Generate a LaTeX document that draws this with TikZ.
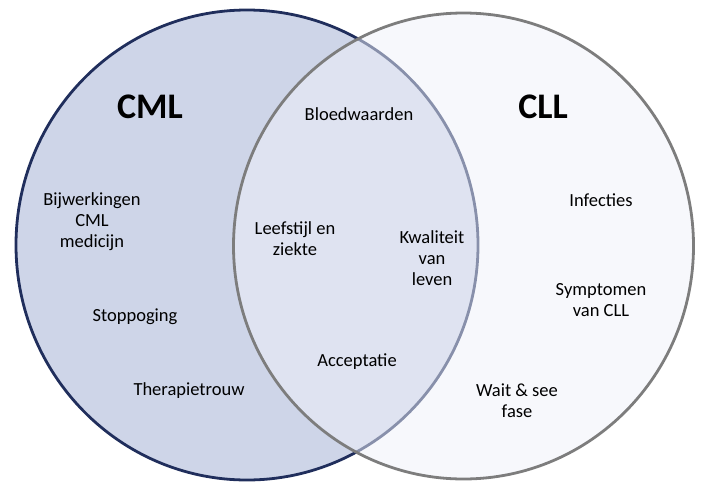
\documentclass[tikz,border=0pt]{standalone}
\usepackage{fontspec}
\setmainfont{Carlito}
\definecolor{cmlfill}{RGB}{206,213,232}
\definecolor{cmlline}{RGB}{32,46,92}
\definecolor{cllfill}{RGB}{240,242,250}
\definecolor{cllline}{RGB}{125,125,125}
\begin{document}
\begin{tikzpicture}[x=1pt, y=-1pt,
    lbl/.style={align=center, inner sep=0pt, font=\fontsize{18.5}{21}\selectfont},
    ttl/.style={inner sep=0pt, font=\fontsize{36}{40}\selectfont\bfseries}]
        \useasboundingbox (0,0) rectangle (714,490);
        \draw[cmlline, fill=cmlfill, line width=2.8pt] (247,245) ellipse [x radius=231, y radius=235];% CML
        \draw[cllline, fill=cllfill, fill opacity=0.5, line width=2.8pt] (463.5,246) ellipse [x radius=230, y radius=233];% CLL
        \node[ttl] (cml) at (150,107) {CML};
        \node[ttl] (cll) at (543,107) {CLL};
        \node[lbl] (bloed) at (359,114) {Bloedwaarden};
        \node[lbl] (bijw) at (92,222) {Bijwerkingen\\CML\\medicijn};
        \node[lbl] (stop) at (135,317) {Stoppoging};
        \node[lbl] (trouw) at (189,391) {Therapietrouw};
        \node[lbl] (leef) at (295,239) {Leefstijl en\\ziekte};
        \node[lbl] (kwal) at (432,258) {Kwaliteit\\van\\leven};
        \node[lbl] (accept) at (357,362) {Acceptatie};
        \node[lbl] (infect) at (601,200) {Infecties};
        \node[lbl] (sympt) at (601,300) {Symptomen\\van CLL};
        \node[lbl] (wait) at (517,401) {Wait \& see\\fase};
    \end{tikzpicture}
\end{document}
